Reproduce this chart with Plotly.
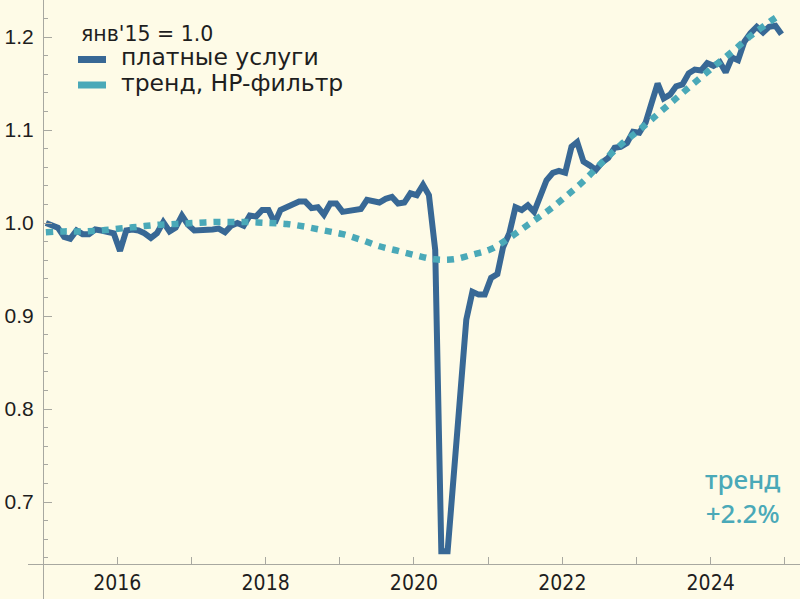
import pandas as pd
import plotly.graph_objects as go

# ---- data ----
start_month = "2015-01-01"
n_months = 120
paid_services = [
    1.000, 0.998, 0.995, 0.985, 0.983, 0.992, 0.988, 0.988, 0.993, 0.992, 0.991, 0.989,
    0.970, 0.992, 0.993, 0.992, 0.989, 0.984, 0.989, 1.001, 0.991, 0.995, 1.008, 0.998,
    0.992, 0.992, 0.993, 0.993, 0.994, 0.990, 0.997, 1.000, 0.997, 1.008, 1.007, 1.014,
    1.014, 1.000, 1.014, 1.017, 1.020, 1.023, 1.023, 1.016, 1.017, 1.009, 1.021, 1.021,
    1.012, 1.013, 1.013, 1.015, 1.025, 1.024, 1.022, 1.026, 1.028, 1.021, 1.022, 1.032,
    1.030, 1.041, 1.030, 0.971, 0.647, 0.647, 0.730, 0.820, 0.896, 0.926, 0.923, 0.923,
    0.941, 0.945, 0.974, 0.989, 1.017, 1.014, 1.019, 1.012, 1.028, 1.046, 1.054, 1.056,
    1.054, 1.082, 1.087, 1.066, 1.062, 1.057, 1.065, 1.070, 1.081, 1.082, 1.086, 1.098,
    1.097, 1.108, 1.128, 1.150, 1.134, 1.138, 1.147, 1.149, 1.161, 1.165, 1.164, 1.172,
    1.169, 1.173, 1.162, 1.178, 1.175, 1.195, 1.204, 1.211, 1.205, 1.211, 1.212, 1.203,
]
# HP-filter trend, read every third month (plus the last month)
trend_month_index = [0, 3, 6, 9, 12, 15, 18, 21, 24, 27, 30, 33, 36, 39, 42, 45, 48, 51, 54, 57,
                     60, 63, 66, 69, 72, 75, 78, 81, 84, 87, 90, 93, 96, 99, 102, 105, 108, 111,
                     114, 117, 119]
trend_values = [0.990, 0.991, 0.991, 0.992, 0.994, 0.996, 0.998, 0.999, 1.000, 1.001, 1.001,
                1.001, 1.000, 0.999, 0.996, 0.992, 0.988, 0.982, 0.975, 0.970, 0.965, 0.961,
                0.961, 0.966, 0.972, 0.984, 0.998, 1.012, 1.028, 1.045, 1.065, 1.084, 1.100,
                1.117, 1.134, 1.151, 1.168, 1.184, 1.201, 1.216, 1.225]
y_tick_values = [0.7, 0.8, 0.9, 1.0, 1.1, 1.2]
x_tick_years = [2016, 2018, 2020, 2022, 2024]
legend_title = "янв'15 = 1.0"
series_names = ["платные услуги", "тренд, HP-фильтр"]
trend_note = "тренд<br>+2.2%"

# ---- build ----
months = pd.date_range(start_month, periods=n_months, freq="MS") + pd.Timedelta(days=14)
trend_dates = [months[i] for i in trend_month_index]

BG = "#FEFBE7"
BLUE = "#386895"
TEAL = "#4AA9B8"
AXIS = "#A8A8A0"
TXT = "#1E1E1E"

fig = go.Figure()
fig.add_trace(go.Scatter(x=months, y=paid_services, mode="lines",
                         line=dict(color=BLUE, width=6), name=series_names[0],
                         showlegend=False, hoverinfo="skip"))
fig.add_trace(go.Scatter(x=trend_dates, y=trend_values, mode="lines",
                         line=dict(color=TEAL, width=6.5, dash="7px,7px", shape="spline"),
                         name=series_names[1], showlegend=False, hoverinfo="skip"))

W, H = 800, 599
fig.update_layout(
    width=W, height=H, margin=dict(l=0, r=0, t=0, b=0),
    paper_bgcolor=BG, plot_bgcolor=BG, showlegend=False,
    xaxis=dict(
        type="date", domain=[28 / W, 1], range=["2014-10-19", "2025-03-16"],
        anchor="free", position=35 / H, automargin=False,
        showline=True, linecolor=AXIS, linewidth=1, showgrid=False, zeroline=False,
        tickmode="array", tickvals=[f"{y}-01-01" for y in x_tick_years],
        ticktext=[str(y) for y in x_tick_years],
        ticks="inside", ticklen=7, tickcolor=AXIS, tickwidth=1,
        minor=dict(tickmode="array", tickvals=[f"{y}-01-01" for y in range(2015, 2026, 2)],
                   ticks="inside", ticklen=7, tickcolor=AXIS, tickwidth=1),
        tickfont=dict(family="DejaVu Sans Condensed, Liberation Sans", size=21, color=TXT),
    ),
    yaxis=dict(
        domain=[0, 1], range=[0.5957, 1.2398], anchor="free", position=43 / W,
        automargin=False,
        showline=True, linecolor=AXIS, linewidth=1, showgrid=False, zeroline=False,
        tickmode="array", tickvals=y_tick_values,
        ticktext=[f"{v:.1f}" for v in y_tick_values],
        ticks="inside", ticklen=8, tickcolor=AXIS, tickwidth=1,
        minor=dict(tickmode="array", tickvals=[round(0.64 + 0.02 * i, 2) for i in range(31)],
                   ticks="inside", ticklen=4, tickcolor=AXIS, tickwidth=1),
        tickfont=dict(family="Liberation Sans", size=21, color=TXT),
        ticklabelstandoff=5,
    ),
)

# legend drawn as annotations + swatches
LEG_FONT = "DejaVu Sans"
fig.add_annotation(x=79 / W, y=1 - 34 / H, xref="paper", yref="paper", text=legend_title,
                   showarrow=False, xanchor="left", yanchor="middle",
                   font=dict(family=LEG_FONT, size=20.5, color=TXT))
for i, (name, col) in enumerate(zip(series_names, [BLUE, TEAL])):
    yc = 59.5 + i * 25.5
    fig.add_shape(type="rect", xref="paper", yref="paper",
                  x0=78 / W, x1=106 / W, y0=1 - (yc + 3.5) / H, y1=1 - (yc - 3.5) / H,
                  fillcolor=col, line=dict(width=0))
    fig.add_annotation(x=119 / W, y=1 - (yc - 2.5) / H, xref="paper", yref="paper", text=name,
                       showarrow=False, xanchor="left", yanchor="middle",
                       font=dict(family=LEG_FONT, size=23.5, color=TXT))

fig.add_annotation(x=742 / W, y=1 - 496 / H, xref="paper", yref="paper", text=trend_note,
                   showarrow=False, xanchor="center", yanchor="middle", align="center",
                   font=dict(family="Noto Sans", size=26, color=TEAL, weight=500))

fig.write_html("out.html", config={"displayModeBar": False},
               post_script="document.body.style.margin='0';")
